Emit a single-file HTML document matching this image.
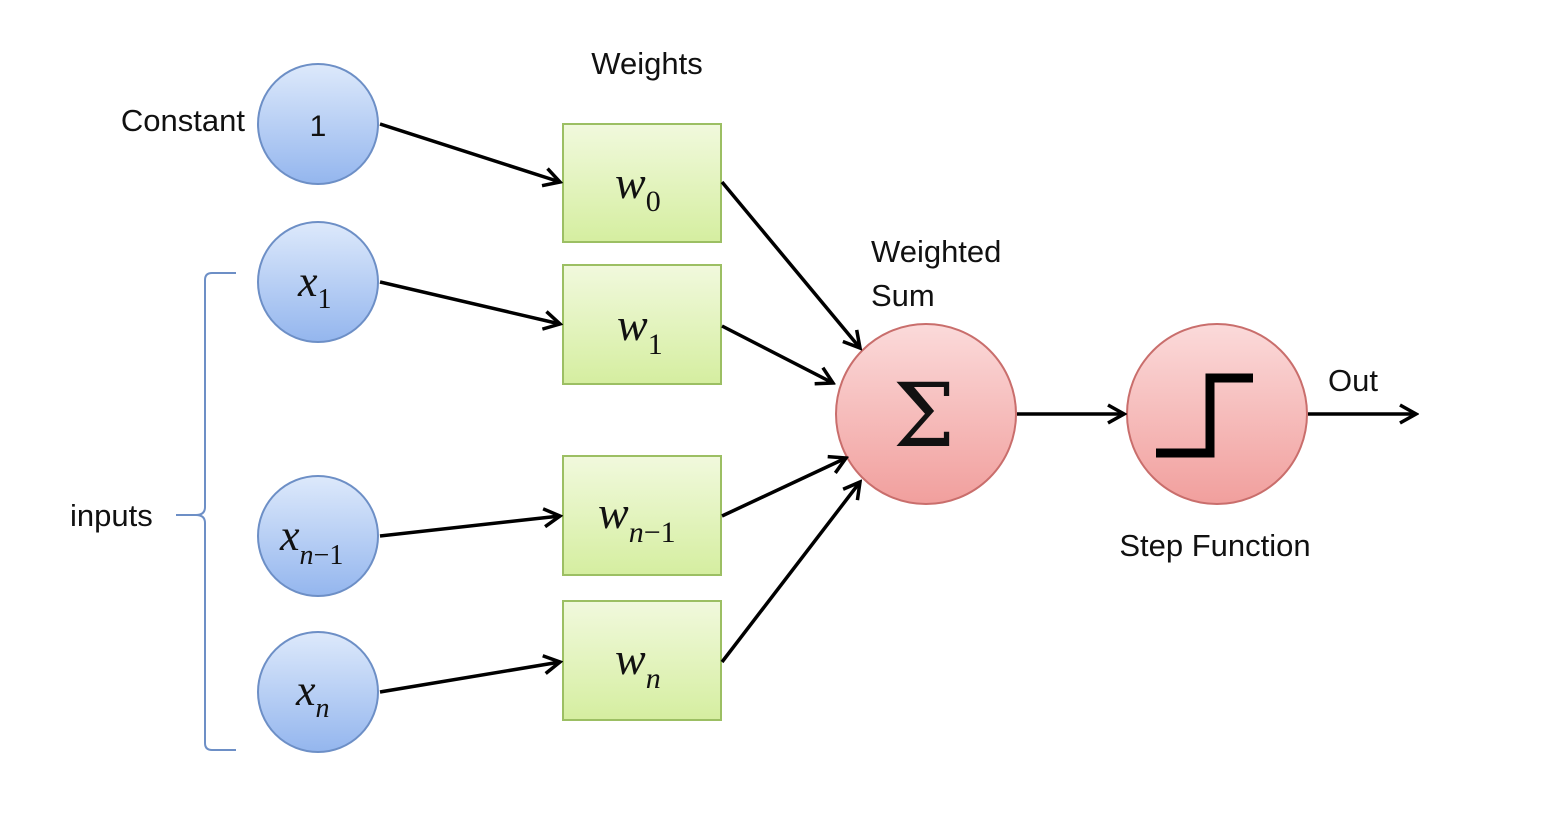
<!DOCTYPE html>
<html><head><meta charset="utf-8"><style>
html,body{margin:0;padding:0;background:#fff}
svg text{font-family:"Liberation Sans",sans-serif;fill:#111}
.m{font-family:"Liberation Serif",serif;font-style:italic}
</style></head><body>
<svg width="1544" height="828" viewBox="0 0 1544 828" xmlns="http://www.w3.org/2000/svg">
<defs>
<linearGradient id="b" x1="0" y1="0" x2="0" y2="1"><stop offset="0" stop-color="#dde9fb"/><stop offset="1" stop-color="#94b6ee"/></linearGradient>
<linearGradient id="g" x1="0" y1="0" x2="0" y2="1"><stop offset="0" stop-color="#f1f9dd"/><stop offset="1" stop-color="#d5eea0"/></linearGradient>
<linearGradient id="r" x1="0" y1="0" x2="0" y2="1"><stop offset="0" stop-color="#fbdada"/><stop offset="1" stop-color="#f19f9d"/></linearGradient>
<marker id="a" markerWidth="22" markerHeight="24" refX="19" refY="12" orient="auto" markerUnits="userSpaceOnUse"><path d="M3,3 L19,12 L3,21" fill="none" stroke="#000" stroke-width="3.5"/></marker>
</defs>
<g stroke="#6d8fc6" stroke-width="2" fill="url(#b)">
<circle cx="318" cy="124" r="60"/><circle cx="318" cy="282" r="60"/><circle cx="318" cy="536" r="60"/><circle cx="318" cy="692" r="60"/>
</g>
<g stroke="#9cbf63" stroke-width="2" fill="url(#g)">
<rect x="563" y="124" width="158" height="118"/><rect x="563" y="265" width="158" height="119"/><rect x="563" y="456" width="158" height="119"/><rect x="563" y="601" width="158" height="119"/>
</g>
<g stroke="#c96e6c" stroke-width="2" fill="url(#r)">
<circle cx="926" cy="414" r="90"/><circle cx="1217" cy="414" r="90"/>
</g>
<g stroke="#000" stroke-width="3.5" fill="none" marker-end="url(#a)">
<line x1="380" y1="124" x2="560" y2="182"/><line x1="380" y1="282" x2="560" y2="324"/>
<line x1="380" y1="536" x2="560" y2="516"/><line x1="380" y1="692" x2="560" y2="662"/>
<line x1="722" y1="182" x2="860" y2="348"/><line x1="722" y1="326" x2="833" y2="383"/>
<line x1="722" y1="516" x2="846" y2="458"/><line x1="722" y1="662" x2="860" y2="482"/>
<line x1="1017" y1="414" x2="1124" y2="414"/><line x1="1308" y1="414" x2="1416" y2="414"/>
</g>
<path d="M1156,453 H1210 V378 H1253" fill="none" stroke="#000" stroke-width="9"/>
<path d="M236,273 H212 Q205,273 205,280 V507 Q205,515 196,515 H176 M196,515 Q205,515 205,523 V743 Q205,750 212,750 H236" fill="none" stroke="#6d8fc6" stroke-width="2"/>
<text x="647" y="74" font-size="31" text-anchor="middle">Weights</text>
<text x="245" y="131" font-size="31" text-anchor="end">Constant</text>
<text x="70" y="526" font-size="31">inputs</text>
<text x="871" y="262" font-size="31">Weighted</text>
<text x="871" y="306" font-size="31">Sum</text>
<text x="1215" y="556" font-size="31" text-anchor="middle">Step Function</text>
<text x="1328" y="391" font-size="31">Out</text>
<text x="318" y="136" font-size="30" text-anchor="middle">1</text>
<text x="298" y="296" font-size="44" class="m">x<tspan font-size="28" dy="12" font-style="normal">1</tspan></text>
<text x="280" y="550" font-size="44" class="m">x<tspan font-size="28" dy="14">n</tspan><tspan font-size="28" font-style="normal">−1</tspan></text>
<text x="296" y="705" font-size="44" class="m">x<tspan font-size="28" dy="12">n</tspan></text>
<text x="615" y="198" font-size="46" class="m">w<tspan font-size="30" dy="13" font-style="normal">0</tspan></text>
<text x="617" y="340" font-size="46" class="m">w<tspan font-size="30" dy="14" font-style="normal">1</tspan></text>
<text x="598" y="528" font-size="46" class="m">w<tspan font-size="30" dy="14">n</tspan><tspan font-size="30" font-style="normal">−1</tspan></text>
<text x="615" y="674" font-size="46" class="m">w<tspan font-size="30" dy="14">n</tspan></text>
<text x="924" y="446" font-size="88" text-anchor="middle" style="font-family:'DejaVu Serif',serif">Σ</text>
</svg>
</body></html>
